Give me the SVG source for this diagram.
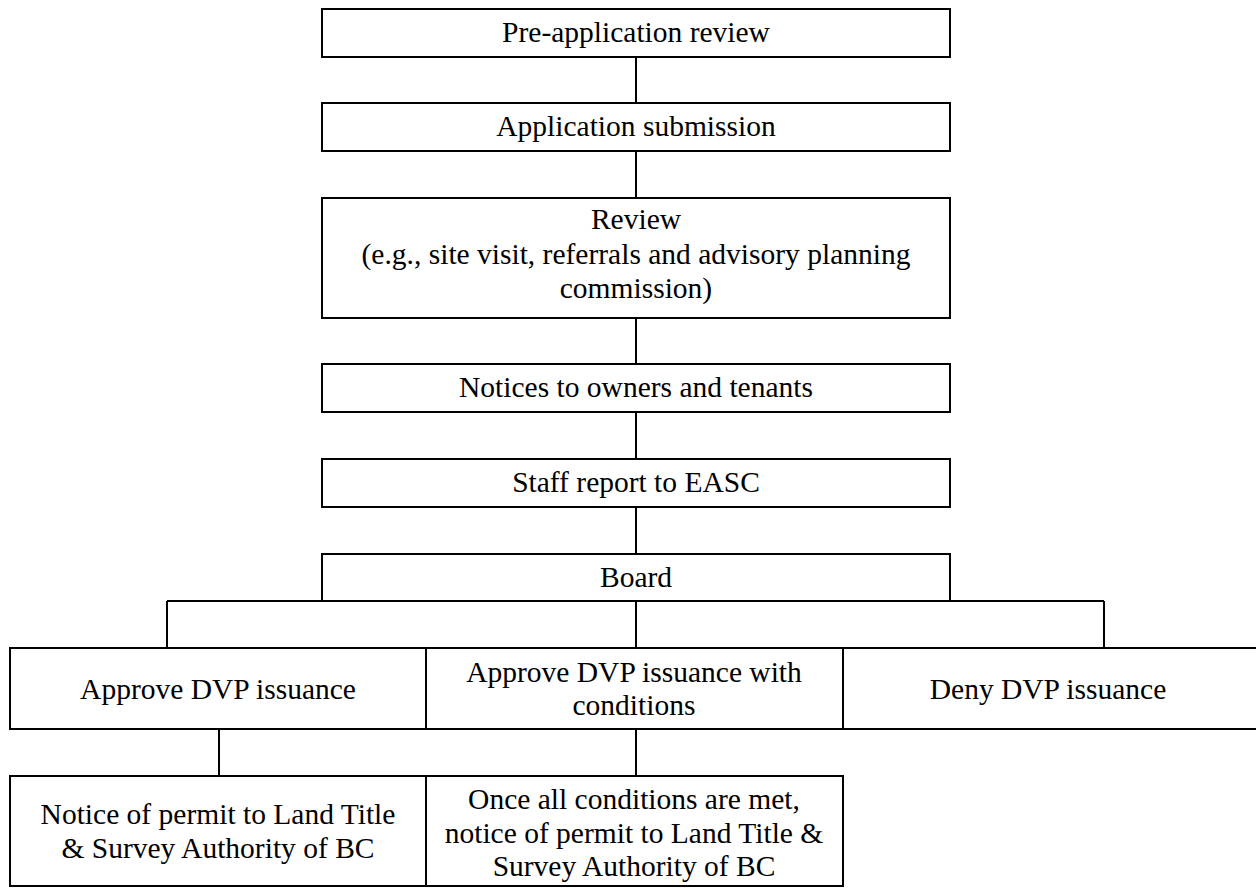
<svg xmlns="http://www.w3.org/2000/svg" width="1256" height="888" viewBox="0 0 1256 888">
<style>
.box{fill:#fff;stroke:#000;stroke-width:2}
.ln{fill:none;stroke:#000;stroke-width:2}
.t{font-family:"Liberation Serif","Times New Roman",serif;font-size:29.5px;text-anchor:middle;fill:#000}
</style>
<rect width="1256" height="888" fill="#fff"/>
<g id="connectors">
<path class="ln" d="M636 57V103M636 151V198M636 318V364M636 412V459M636 507V554"/>
<path class="ln" d="M167 601H1104M167 601V648M636 601V648M1104 601V648"/>
<path class="ln" d="M219 729V776M636 729V776"/>
</g>
<g id="n1"><rect class="box" x="322" y="9" width="628" height="48"/><text class="t" x="636" y="42">Pre-application review</text></g>
<g id="n2"><rect class="box" x="322" y="103" width="628" height="48"/><text class="t" x="636" y="136">Application submission</text></g>
<g id="n3"><rect class="box" x="322" y="198" width="628" height="120"/>
<text class="t" x="636" y="229">Review</text>
<text class="t" x="636" y="264">(e.g., site visit, referrals and advisory planning</text>
<text class="t" x="636" y="298">commission)</text></g>
<g id="n4"><rect class="box" x="322" y="364" width="628" height="48"/><text class="t" x="636" y="397">Notices to owners and tenants</text></g>
<g id="n5"><rect class="box" x="322" y="459" width="628" height="48"/><text class="t" x="636" y="492">Staff report to EASC</text></g>
<g id="n6"><rect class="box" x="322" y="554" width="628" height="47"/><text class="t" x="636" y="587">Board</text></g>
<g id="n7"><rect class="box" x="10" y="648" width="416" height="81"/><text class="t" x="218" y="699">Approve DVP issuance</text></g>
<g id="n8"><rect class="box" x="426" y="648" width="417" height="81"/><text class="t" x="634" y="682">Approve DVP issuance with</text><text class="t" x="634" y="715">conditions</text></g>
<g id="n9"><rect class="box" x="843" y="648" width="420" height="81"/><text class="t" x="1048" y="699">Deny DVP issuance</text></g>
<g id="n10"><rect class="box" x="10" y="776" width="416" height="110"/><text class="t" x="218" y="824">Notice of permit to Land Title</text><text class="t" x="218" y="858">&amp; Survey Authority of BC</text></g>
<g id="n11"><rect class="box" x="426" y="776" width="417" height="110"/><text class="t" x="634" y="809">Once all conditions are met,</text><text class="t" x="634" y="843">notice of permit to Land Title &amp;</text><text class="t" x="634" y="876">Survey Authority of BC</text></g>
</svg>
